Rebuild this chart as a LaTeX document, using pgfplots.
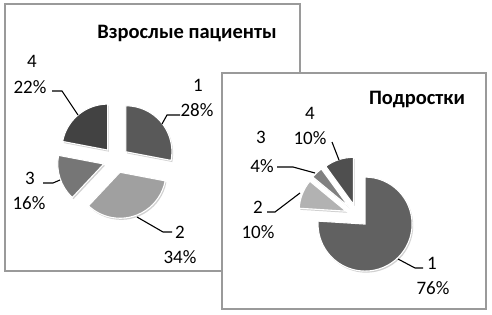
\documentclass[border=0pt]{standalone}
\usepackage{fontspec}
\setmainfont{Carlito}
\usepackage{pgfplots}
\usepackage{pgfplotstable}
\pgfplotsset{compat=1.18}

\pgfplotstableread{
id v
1 28
2 34
3 16
4 22
}\adults
\pgfplotstableread{
id v
1 76
2 10
3 4
4 10
}\teens

\definecolor{adult0}{HTML}{595959}
\definecolor{adult1}{HTML}{A0A0A0}
\definecolor{adult2}{HTML}{767676}
\definecolor{adult3}{HTML}{424242}
\definecolor{teen0}{HTML}{616161}
\definecolor{teen1}{HTML}{B2B2B2}
\definecolor{teen2}{HTML}{808080}
\definecolor{teen3}{HTML}{4F4F4F}
\definecolor{frame}{HTML}{9A9A9A}

\newcommand{\drawpie}[4]{%
  \pgfmathsetmacro\pieStart{90}%
  \pgfplotsforeachungrouped \i in {0,1,2,3}{%
    \pgfplotstablegetelem{\i}{v}\of#1%
    \pgfmathsetmacro\pieEnd{\pieStart-3.6*\pgfplotsretval}%
    \pgfmathsetmacro\pieMid{(\pieStart+\pieEnd)/2}%
    \pgfmathsetmacro\pieX{#3*cos(\pieMid)}%
    \pgfmathsetmacro\pieY{#3*sin(\pieMid)}%
    \edef\temp{%
      \noexpand\fill[black, opacity=0.18] ([shift={(1.2pt,-1.6pt)}]axis cs:\pieX,\pieY) -- ++(\pieStart:#2pt) arc[start angle=\pieStart, end angle=\pieEnd, radius=#2pt] -- cycle;
      \noexpand\fill[#4\i, draw=white, line width=1.1pt] (axis cs:\pieX,\pieY) -- ++(\pieStart:#2pt) arc[start angle=\pieStart, end angle=\pieEnd, radius=#2pt] -- cycle;}%
    \temp
    \global\let\pieStart\pieEnd
  }%
}

\begin{document}
\begin{tikzpicture}[x=1pt,y=1pt]
\useasboundingbox (0,0) rectangle (492,314);
\tikzset{lbl/.style={font=\fontsize{19}{21}\selectfont, inner sep=0pt}}
% left box
\draw[frame, line width=1.5pt, fill=white] (5,43) rectangle (300,310);
\node[font=\bfseries\fontsize{20.5}{23}\selectfont, inner sep=0pt] at (187,280) {Взрослые пациенты};
\begin{axis}[at={(116pt,154pt)}, anchor=center, scale only axis, width=92pt, height=92pt,
  xmin=-1, xmax=1, ymin=-1, ymax=1, hide axis, clip=false]
  \drawpie{\adults}{46}{0.28}{adult}
\end{axis}
\node[lbl] at (198,229) {1};
\node[lbl] at (197,204) {28\%};
\node[lbl] at (32,253) {4};
\node[lbl] at (30,227) {22\%};
\node[lbl] at (30,136) {3};
\node[lbl] at (29,111) {16\%};
\node[lbl] at (180,82) {2};
\node[lbl] at (180,57) {34\%};
\draw[line width=1.1pt] (180,199) -- (167,199) -- (162,190);
\draw[line width=1.1pt] (52,223) -- (62,223) -- (78,199);
\draw[line width=1.1pt] (43,131) -- (53,131) -- (60,134);
\draw[line width=1.1pt] (137,97) -- (163,82) -- (172,82);
% right box
\draw[frame, line width=1.5pt, fill=white] (222,5) rectangle (486,241);
\node[font=\bfseries\fontsize{20.5}{23}\selectfont, inner sep=0pt] at (417,214) {Подростки};
\begin{axis}[at={(357pt,98.5pt)}, anchor=center, scale only axis, width=94pt, height=94pt,
  xmin=-1, xmax=1, ymin=-1, ymax=1, hide axis, clip=false]
  \drawpie{\teens}{47}{0.25}{teen}
\end{axis}
\node[lbl] at (310,201) {4};
\node[lbl] at (310,176) {10\%};
\node[lbl] at (261,177) {3};
\node[lbl] at (262,148) {4\%};
\node[lbl] at (258,107) {2};
\node[lbl] at (258,82) {10\%};
\node[lbl] at (432,51) {1};
\node[lbl] at (433,26) {76\%};
\draw[line width=1.1pt] (332,172) -- (339,154);
\draw[line width=1.1pt] (277,147) -- (293,147) -- (315,141);
\draw[line width=1.1pt] (267,102) -- (275,102) -- (300,121);
\draw[line width=1.1pt] (398,55) -- (415,46) -- (423,46);
\end{tikzpicture}
\end{document}
